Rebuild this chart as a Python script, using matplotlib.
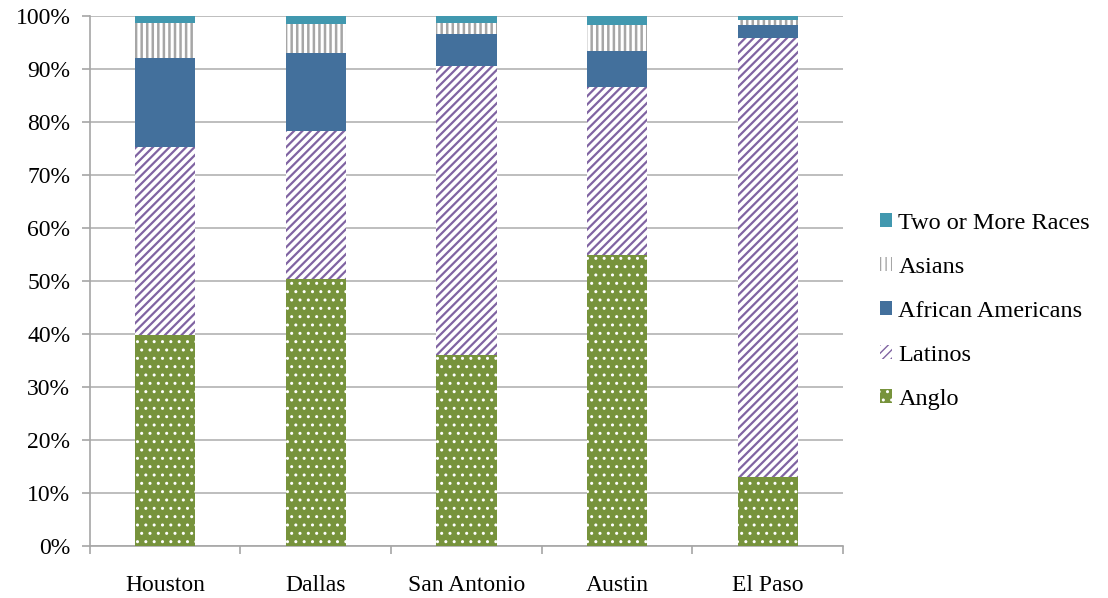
import matplotlib
matplotlib.use("Agg")
import matplotlib.pyplot as plt
import numpy as np

plt.rcParams['font.family'] = ['Liberation Serif', 'DejaVu Serif']

# city groups, values are percent of population
cities = ["Houston", "Dallas", "San Antonio", "Austin", "El Paso"]
anglo = [39.8, 50.4, 36.0, 54.9, 13.0]
latinos = [35.5, 27.9, 54.6, 31.8, 82.9]
african = [16.8, 14.7, 6.0, 6.8, 2.4]
asians = [6.7, 5.5, 2.2, 4.9, 0.9]
two_more = [1.2, 1.5, 1.2, 1.6, 0.8]

series = [
    ("Anglo", anglo, "#77933C", "white", "..", 1.0),
    ("Latinos", latinos, "white", "#8064A2", "////", 1.6),
    ("African Americans", african, "#43709C", "#43709C", None, 1.0),
    ("Asians", asians, "white", "#A6A6A6", "|||", 1.8),
    ("Two or More Races", two_more, "#4198AF", "#4198AF", None, 1.0),
]

fig = plt.figure(figsize=(11.08, 5.98), dpi=100)
ax = fig.add_axes([0.081, 0.087, 0.68, 0.886])

x = np.arange(len(cities))
bottom = np.zeros(len(cities))
for name, vals, face, edge, hatch, hlw in series:
    with plt.rc_context({'hatch.linewidth': hlw}):
        ax.bar(x, vals, 0.4, bottom=bottom, color=face, edgecolor=edge,
               hatch=hatch, linewidth=0, label=name, zorder=3)
    bottom += np.array(vals)

ax.set_ylim(0, 100)
ax.set_xlim(-0.5, len(cities) - 0.5)
ax.set_yticks(np.arange(0, 101, 10))
ax.set_yticklabels([f"{v}%" for v in range(0, 101, 10)], fontsize=17)
ax.set_xticks(x)
ax.set_xticklabels(cities, fontsize=17)
ax.tick_params(axis='x', which='major', length=0, pad=21)
ax.set_xticks(np.arange(-0.5, len(cities), 1), minor=True)
ax.tick_params(axis='x', which='minor', length=6, color="#A6A6A6", width=1.2)
ax.tick_params(axis='y', length=6, color="#A6A6A6", width=1.2, pad=8)
ax.yaxis.grid(True, color="#B3B3B3", linewidth=1.2, zorder=0)
ax.set_axisbelow(True)
for s in ["top", "right"]:
    ax.spines[s].set_visible(False)
for s in ["left", "bottom"]:
    ax.spines[s].set_color("#A6A6A6")
    ax.spines[s].set_linewidth(1.2)

h, l = ax.get_legend_handles_labels()
ax.legend(h[::-1], l[::-1], loc="center left", bbox_to_anchor=(1.02, 0.443),
          frameon=False, fontsize=17.5, handlelength=0.5, handleheight=0.5,
          handletextpad=0.25, labelspacing=0.95)

fig.savefig("out.png", dpi=100)
